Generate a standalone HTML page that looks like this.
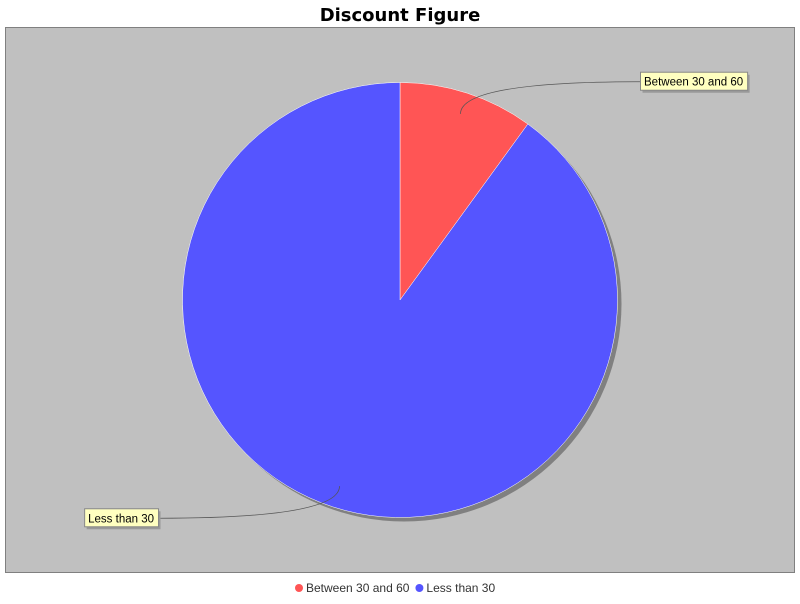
<!DOCTYPE html>
<html><head><meta charset="utf-8"><style>
body{margin:0;background:#fff;font-family:"DejaVu Sans","Liberation Sans",sans-serif;}
</style></head><body>
<svg width="800" height="600" xmlns="http://www.w3.org/2000/svg">
<rect x="0" y="0" width="800" height="600" fill="#fff"/>
<text x="400" y="21" text-anchor="middle" font-size="18" font-weight="bold" font-family="DejaVu Sans, Liberation Sans, sans-serif">Discount Figure</text>
<rect x="5.5" y="27.5" width="789" height="545" fill="#c0c0c0" stroke="#808080"/>
<g id="shadow"></g>
<g id="slices"></g>
<g id="labels"></g>
<g id="legend"></g>
</svg>
<script>
const categories = ["Between 30 and 60", "Less than 30"];
const values = [10, 90];
const colors = ["#ff5555", "#5555ff"];
const NS = "http://www.w3.org/2000/svg";
const cx = 400, cy = 300, r = 217.5;
const total = values.reduce((a, b) => a + b, 0);
function pt(a, rad) { return [cx + rad * Math.sin(a), cy - rad * Math.cos(a)]; }
const sh = document.createElementNS(NS, "circle");
sh.setAttribute("cx", cx + 4); sh.setAttribute("cy", cy + 4); sh.setAttribute("r", r); sh.setAttribute("fill", "#808080");


document.getElementById("shadow").appendChild(sh);
let start = 0;
const mids = [];
values.forEach((v, i) => {
  const sweep = v / total * 2 * Math.PI;
  const end = start + sweep;
  const p1 = pt(start, r), p2 = pt(end, r);
  const large = sweep > Math.PI ? 1 : 0;
  const p = document.createElementNS(NS, "path");
  p.setAttribute("d", `M${cx},${cy} L${p1[0]},${p1[1]} A${r},${r} 0 ${large} 1 ${p2[0]},${p2[1]} Z`);
  p.setAttribute("fill", colors[i]);
  p.setAttribute("stroke", "#fff"); p.setAttribute("stroke-width", "0.5");
  
  
  document.getElementById("slices").appendChild(p);
  mids.push(start + sweep / 2);
  start = end;
});
const lg = document.getElementById("labels");
mids.forEach((m, i) => {
  const a = pt(m, r * 0.9);
  const right = Math.sin(m) >= 0;
  const ly = cy - (r + 12) * Math.cos(m) * (right ? 1 : 1);
  const txt = categories[i];
  const t = document.createElementNS(NS, "text");
  t.setAttribute("font-size", "11.5");
  t.setAttribute("font-family", "Liberation Sans, sans-serif");
  t.textContent = txt;
  
  
  lg.appendChild(t);
  const w = t.getComputedTextLength() + 8;
  const bx = right ? 640 : 158 - w;
  const edgeX = right ? bx : bx + w;
  t.setAttribute("x", bx + 4); t.setAttribute("y", ly + 4);
  const path = document.createElementNS(NS, "path");
  path.setAttribute("d", `M${a[0]},${a[1]} C${a[0]},${ly} ${edgeX - (right ? 40 : -40)},${ly} ${edgeX},${ly}`);
  path.setAttribute("fill", "none"); path.setAttribute("stroke", "#555"); path.setAttribute("stroke-width", "0.8");
  
  
  lg.insertBefore(path, t);
  const s = document.createElementNS(NS, "rect");
  s.setAttribute("x", bx + 2.5); s.setAttribute("y", ly - 7); s.setAttribute("width", w); s.setAttribute("height", 18); s.setAttribute("fill", "#999");
  
  
  lg.insertBefore(s, t);
  const b = document.createElementNS(NS, "rect");
  b.setAttribute("x", bx + 0.5); b.setAttribute("y", ly - 9.5); b.setAttribute("width", w); b.setAttribute("height", 18);
  b.setAttribute("fill", "#ffffc0"); b.setAttribute("stroke", "#888");
  
  
  lg.insertBefore(b, t);
});
const leg = document.getElementById("legend");
let x = 295;
categories.forEach((c, i) => {
  const dot = document.createElementNS(NS, "circle");
  dot.setAttribute("cx", x + 4); dot.setAttribute("cy", 588); dot.setAttribute("r", 4); dot.setAttribute("fill", colors[i]);
  
  
  leg.appendChild(dot);
  const t = document.createElementNS(NS, "text");
  t.setAttribute("x", x + 11); t.setAttribute("y", 592); t.setAttribute("font-size", "12");
  t.setAttribute("font-family", "Liberation Sans, sans-serif");
  t.setAttribute("fill", "#333");
  t.textContent = c;
  
  
  leg.appendChild(t);
  x += 11 + t.getComputedTextLength() + 6;
});
</script>
</body></html>
